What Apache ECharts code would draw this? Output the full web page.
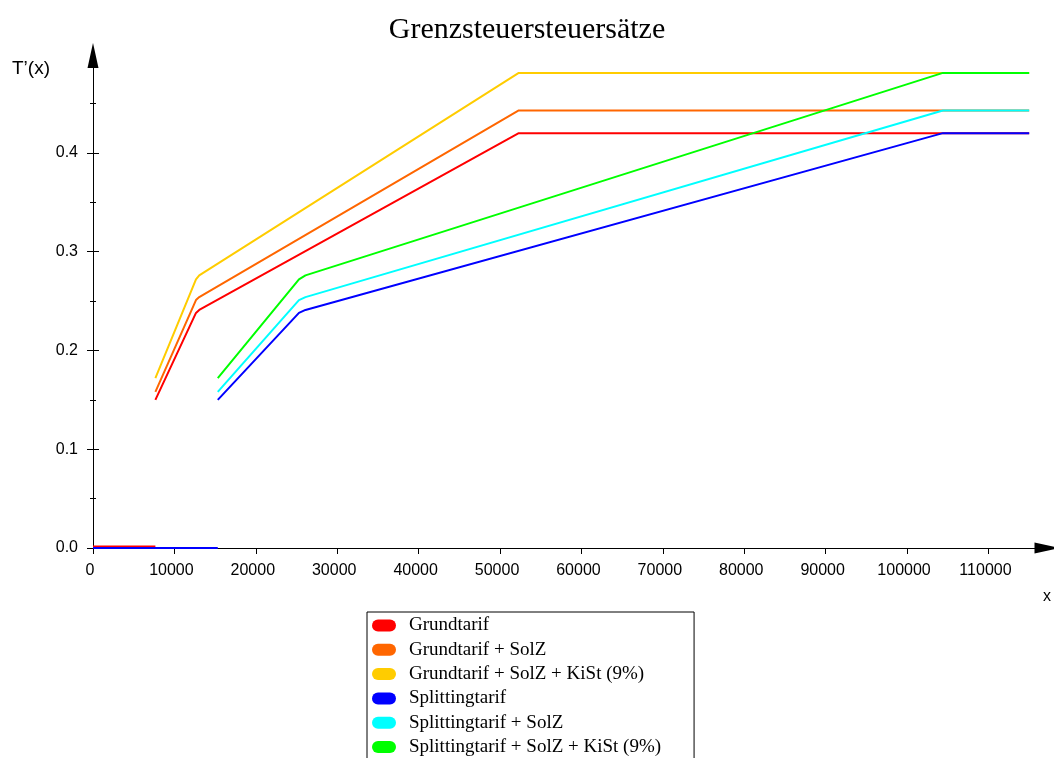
<!DOCTYPE html>
<html>
<head>
<meta charset="utf-8">
<script src="https://cdn.jsdelivr.net/npm/echarts@6/dist/echarts.min.js"></script>
<style>
  html, body { margin: 0; padding: 0; background: #fff; }
  #chart { width: 1054px; height: 758px; }
</style>
</head>
<body>
<div id="chart"></div>
<script>
// income x, marginal rates T'(x); null = gap in the line
const grundX     = [0, 7664, 7664, 7664, 12650, 13050, 52300, 115000]
const grundT     = [0.0015, 0.0015, null, 0.150, 0.238, 0.241, 0.420, 0.420]
const grundSolZ  = [null, null, null, 0.158, 0.251, 0.254, 0.443, 0.443]
const grundKiSt  = [null, null, null, 0.172, 0.272, 0.276, 0.481, 0.481]

const splitX     = [0, 15328, 15328, 15328, 25300, 26100, 104400, 115000]
const splitT     = [0, 0, null, 0.150, 0.238, 0.241, 0.420, 0.420]
const splitSolZ  = [null, null, null, 0.158, 0.251, 0.254, 0.443, 0.443]
const splitKiSt  = [null, null, null, 0.172, 0.272, 0.276, 0.481, 0.481]

const seriesNames = [
  'Grundtarif',
  'Grundtarif + SolZ',
  'Grundtarif + SolZ + KiSt (9%)',
  'Splittingtarif',
  'Splittingtarif + SolZ',
  'Splittingtarif + SolZ + KiSt (9%)'
]
const seriesColors = ['#ff0000', '#ff6600', '#ffcc00', '#0000ff', '#00ffff', '#00ff00']

const xTicks = [0, 10000, 20000, 30000, 40000, 50000, 60000, 70000, 80000, 90000, 100000, 110000]
const yTicks = [0, 0.1, 0.2, 0.3, 0.4]
const yMinorTicks = [0.05, 0.15, 0.25, 0.35, 0.45]

const seriesX = [grundX, grundX, grundX, splitX, splitX, splitX]
const seriesY = [grundT, grundSolZ, grundKiSt, splitT, splitSolZ, splitKiSt]

function pairs(xs, ys) {
  return xs.map((x, i) => [x, ys[i] === null ? '-' : ys[i]])
}

const sansFont = '"Liberation Sans", Arial, sans-serif'
const serifFont = '"Liberation Serif", "Times New Roman", serif'

const chart = echarts.init(document.getElementById('chart'), null, { renderer: 'canvas' })

const xBase = {
  type: 'value',
  min: 0,
  max: 117190,
  splitLine: { show: false },
  axisLabel: { show: false },
  axisLine: { show: false },
  axisTick: { show: true, length: 6, customValues: xTicks, lineStyle: { color: '#000', width: 1 } }
}

const yBase = {
  type: 'value',
  min: 0,
  max: 0.4986,
  position: 'left',
  splitLine: { show: false },
  axisLabel: { show: false },
  axisLine: { show: false },
  axisTick: { show: true, length: 6, customValues: yTicks, lineStyle: { color: '#000', width: 1 } }
}

const option = {
  animation: false,
  backgroundColor: '#fff',
  title: {
    text: 'Grenzsteuersteuersätze',
    left: 'center',
    top: 10,
    textStyle: { fontFamily: serifFont, fontSize: 30, fontWeight: 'normal', color: '#000' }
  },
  grid: { left: 93, right: 2.5, top: 55.5, bottom: 210 },
  legend: {
    orient: 'vertical',
    left: 367,
    top: 612,
    height: 170,
    padding: [4, 33, 6, 5],
    itemGap: 5.3,
    itemWidth: 24,
    itemHeight: 12,
    icon: 'path://M6,0 H18 A6,6 0 0 1 18,12 H6 A6,6 0 0 1 6,0 Z',
    borderColor: '#000',
    borderWidth: 1,
    backgroundColor: '#fff',
    data: seriesNames,
    textStyle: { fontFamily: serifFont, fontSize: 19, color: '#000', padding: [0, 0, 0, 8] }
  },
  xAxis: [
    Object.assign({}, xBase, {
      name: 'x',
      nameLocation: 'end',
      nameGap: -4,
      nameTextStyle: { fontFamily: sansFont, fontSize: 16, color: '#000', align: 'left', verticalAlign: 'top', padding: [41, 0, 0, 0] },
      axisLine: {
        show: true,
        symbol: ['none', 'triangle'],
        symbolSize: [11, 25],
        lineStyle: { color: '#000', width: 1 }
      },
      axisLabel: {
        show: true, customValues: xTicks, margin: 15,
        fontFamily: sansFont, fontSize: 16, color: '#000',
        padding: [0, 6, 0, 0],
        formatter: v => String(v)
      }
    }),
    Object.assign({}, xBase, { axisTick: Object.assign({}, xBase.axisTick, { inside: true }) })
  ],
  yAxis: [
    Object.assign({}, yBase, {
      name: 'T\u2019(x)',
      nameLocation: 'end',
      nameGap: -13.5,
      nameTextStyle: { fontFamily: sansFont, fontSize: 19, color: '#000', align: 'right', verticalAlign: 'middle', padding: [0, 43, 0, 0] },
      axisLine: {
        show: true,
        symbol: ['none', 'triangle'],
        symbolSize: [11, 25],
        lineStyle: { color: '#000', width: 1 }
      },
      axisLabel: {
        show: true, customValues: yTicks, margin: 15,
        fontFamily: sansFont, fontSize: 16, color: '#000',
        formatter: v => v.toFixed(1)
      }
    }),
    Object.assign({}, yBase, { axisTick: Object.assign({}, yBase.axisTick, { inside: true }) }),
    Object.assign({}, yBase, { axisTick: Object.assign({}, yBase.axisTick, { length: 3, customValues: yMinorTicks }) }),
    Object.assign({}, yBase, { axisTick: Object.assign({}, yBase.axisTick, { length: 3, inside: true, customValues: yMinorTicks }) })
  ],
  series: seriesNames.map((name, i) => ({
    name,
    type: 'line',
    xAxisIndex: 0,
    yAxisIndex: 0,
    showSymbol: false,
    connectNulls: false,
    color: seriesColors[i],
    lineStyle: { color: seriesColors[i], width: 2 },
    data: pairs(seriesX[i], seriesY[i])
  }))
}

chart.setOption(option)
</script>
</body>
</html>
